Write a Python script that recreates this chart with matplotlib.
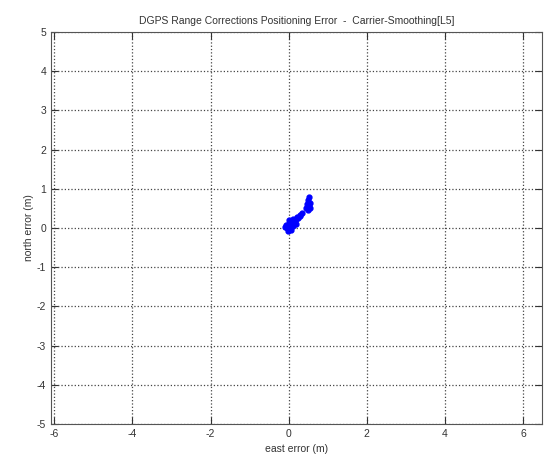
import matplotlib
matplotlib.use('Agg')
import matplotlib.pyplot as plt

# positioning error samples (m)
east = [-0.08, -0.05, 0.0, 0.05, -0.02, 0.05, 0.0, 0.08, 0.1, 0.12, 0.15, 0.18,
        0.2, 0.22, 0.25, 0.28, 0.3, 0.35, -0.1, 0.02, 0.12,
        0.45, 0.5, 0.52, 0.55, 0.48, 0.55, 0.5, 0.53]
north = [0.08, 0.0, 0.02, 0.05, -0.08, -0.05, 0.12, 0.12, 0.05, 0.15, 0.18, 0.1,
         0.22, 0.28, 0.25, 0.32, 0.3, 0.38, 0.02, 0.2, 0.22,
         0.5, 0.45, 0.55, 0.5, 0.6, 0.65, 0.72, 0.78]

xticks = [-6, -4, -2, 0, 2, 4, 6]
yticks = [-5, -4, -3, -2, -1, 0, 1, 2, 3, 4, 5]

plt.rcParams['font.family'] = ['Liberation Sans', 'DejaVu Sans']
plt.rcParams['axes.unicode_minus'] = False
fig = plt.figure(figsize=(5.44, 4.67), dpi=100)
ax = fig.add_axes([0.094, 0.092, 0.902, 0.8395])

ax.plot(east, north, '.', color='blue', markersize=7)

ax.set_xlim(-6.08, 6.48)
ax.set_ylim(-5, 5)
ax.set_xticks(xticks)
ax.set_yticks(yticks)
ax.grid(True, linestyle=':', color='#444444', linewidth=0.9)
ax.tick_params(direction='in', top=True, right=True, labelsize=7.5,
               colors='#333333', length=5)
for s in ax.spines.values():
    s.set_color('#555555')

ax.set_title('DGPS Range Corrections Positioning Error  -  Carrier-Smoothing[L5]',
             fontsize=7.5, color='#333333', pad=6)
ax.set_xlabel('east error (m)', fontsize=7.5, color='#333333')
ax.set_ylabel('north error (m)', fontsize=7.5, color='#333333', labelpad=2)

fig.savefig('out.png', dpi=100)
